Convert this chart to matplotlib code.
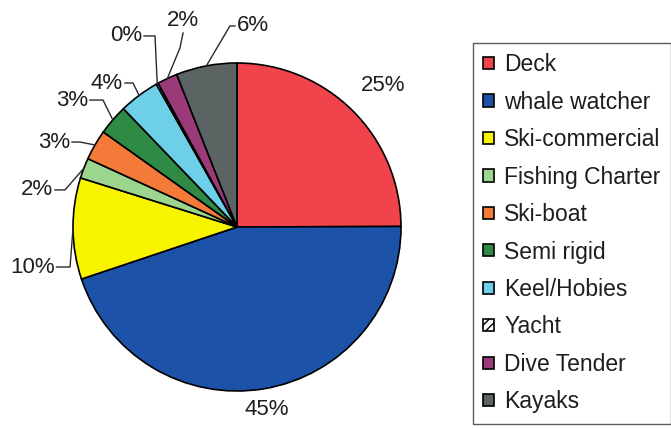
import numpy as np
import matplotlib
matplotlib.use('Agg')
import matplotlib.pyplot as plt

plt.rcParams['font.family'] = ['Liberation Sans', 'DejaVu Sans']
plt.rcParams['hatch.linewidth'] = 1.0

# data (percent of total)
categories = ['Deck', 'whale watcher', 'Ski-commercial', 'Fishing Charter', 'Ski-boat',
              'Semi rigid', 'Keel/Hobies', 'Yacht', 'Dive Tender', 'Kayaks']
shares = [25, 45, 10, 2, 3, 3, 4, 0.2, 2, 6]
colors = ['#f0434b', '#1c52a8', '#f8f400', '#9cd68e', '#f47a3a',
          '#2f8a46', '#6dcfe8', 'white', '#9a3a78', '#5b6363']
hatches = [None, None, None, None, None, None, None, '////', None, None]

# label layout: text anchor, alignment, elbow points of leader (None = no leader)
label_layout = [
    ((0.89, 0.86), 'center', None),
    (None, 'center', None),
    ((-1.112, -0.244), 'right', [(-1.018, -0.244)]),
    ((-1.122, 0.226), 'right', [(-1.049, 0.226)]),
    ((-1.018, 0.518), 'right', [(-0.957, 0.518)]),
    ((-0.909, 0.774), 'right', [(-0.817, 0.774)]),
    ((-0.695, 0.878), 'right', [(-0.634, 0.878)]),
    ((-0.579, 1.165), 'right', [(-0.5, 1.165)]),
    ((-0.329, 1.262), 'center', [(-0.329, 1.183), (-0.348, 1.091)]),
    ((0.0, 1.226), 'left', [(-0.043, 1.226)]),
]

fig = plt.figure(figsize=(6.71, 4.29), dpi=100)
ax = fig.add_axes([0, 0, 1, 1])

wedges, _ = ax.pie(shares, colors=colors, startangle=90, counterclock=False,
                   wedgeprops=dict(edgecolor='black', linewidth=1.2))
for w, h in zip(wedges, hatches):
    if h:
        w.set_hatch(h)

for i, (w, v) in enumerate(zip(wedges, shares)):
    mid = np.deg2rad((w.theta1 + w.theta2) / 2)
    pos, ha, elbows = label_layout[i]
    txt = '{:.0f}%'.format(v)
    if pos is None:
        pos = (1.13 * np.cos(mid), 1.13 * np.sin(mid))
    ax.text(pos[0], pos[1], txt, ha=ha, va='center', fontsize=16, color='#1e1e1e')
    if elbows is not None:
        edge = (np.cos(mid), np.sin(mid))
        if ha == 'right':
            pts = [(pos[0] + 0.012, pos[1])] + elbows + [edge]
        elif ha == 'left':
            pts = [(pos[0] - 0.012, pos[1])] + elbows + [edge]
        else:
            pts = elbows + [edge]
        xs, ys = zip(*pts)
        ax.plot(xs, ys, color='#2a2a2a', lw=1.0)

ax.set_xlim(-237 / 164, (671 - 237) / 164)
ax.set_ylim(-(429 - 227) / 164, 227 / 164)
ax.set_aspect('equal')
ax.axis('off')

leg = ax.legend(wedges, categories, loc='upper left',
                bbox_to_anchor=(473 / 671, 1 - 43 / 429), bbox_transform=fig.transFigure,
                borderaxespad=0, fontsize=16.5, frameon=True, fancybox=False,
                handlelength=0.48, handleheight=0.44, handletextpad=0.44,
                labelspacing=0.63, borderpad=0.45)
leg.get_frame().set_edgecolor('#333333')
leg.get_frame().set_linewidth(1.0)
for t in leg.get_texts():
    t.set_color('#1e1e1e')

fig.savefig('out.png', dpi=100)
